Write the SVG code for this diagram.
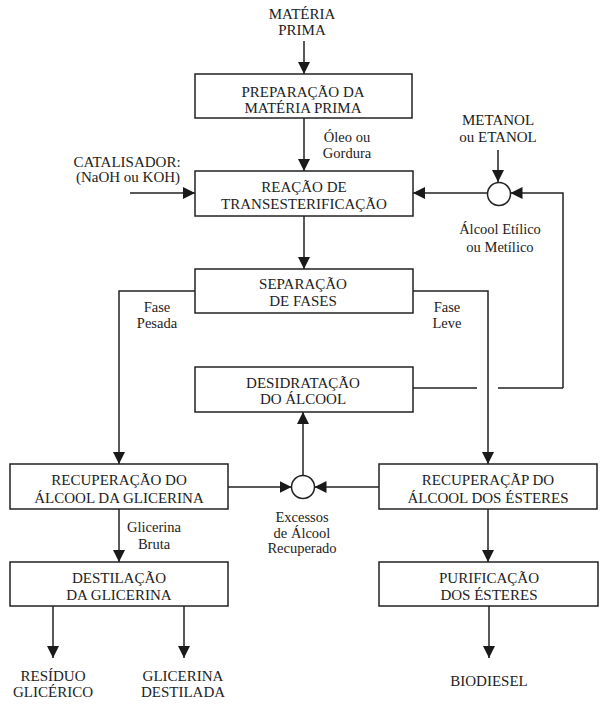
<svg xmlns="http://www.w3.org/2000/svg" width="600" height="705" viewBox="0 0 600 705">
<defs>
<marker id="ah" markerUnits="userSpaceOnUse" markerWidth="12" markerHeight="12" viewBox="0 0 12 12" refX="12" refY="6" orient="auto">
<path d="M0,0 L12,6 L0,12 z" fill="#1a1a1a"/>
</marker>
<style>
.box{fill:#fff;stroke:#222;stroke-width:1.5}
.t{font-family:"Liberation Serif","Times New Roman",serif;font-size:15px;fill:#222;text-anchor:middle}
.l{font-family:"Liberation Serif","Times New Roman",serif;font-size:14.5px;fill:#222;text-anchor:middle}
.c{fill:none;stroke:#222;stroke-width:1.5}
.a{fill:none;stroke:#222;stroke-width:1.5;marker-end:url(#ah)}
.circ{fill:#fff;stroke:#222;stroke-width:1.5}
</style>
</defs>
<rect width="600" height="705" fill="#fff"/>

<g id="connectors">
<path class="a" d="M304,41 V74"/>
<path class="a" d="M304,118 V171"/>
<path class="a" d="M130,193 H195"/>
<path class="a" d="M304,216 V269"/>
<path class="a" d="M498,150 V182"/>
<path class="a" d="M487,193 H413"/>
<path class="a" d="M563,388 V193 H510.5"/>
<path class="c" d="M413,388 H477"/>
<path class="c" d="M498,388 H563"/>
<path class="a" d="M195,291 H119 V464"/>
<path class="a" d="M413,291 H488 V464"/>
<path class="a" d="M303,475.5 V412"/>
<path class="a" d="M228,487 H291.5"/>
<path class="a" d="M379,487 H314.5"/>
<path class="a" d="M119,509 V562"/>
<path class="a" d="M488,509 V562"/>
<path class="a" d="M53,606 V658"/>
<path class="a" d="M184,606 V658"/>
<path class="a" d="M489,606 V658"/>
</g>

<g id="materia-prima">
<text class="t" x="302" y="19">MATÉRIA</text>
<text class="t" x="302" y="35">PRIMA</text>
</g>

<g id="preparacao">
<rect class="box" x="195" y="74" width="217" height="44"/>
<text class="t" x="303" y="97">PREPARAÇÃO DA</text>
<text class="t" x="303" y="113">MATÉRIA PRIMA</text>
</g>

<g id="label-oleo">
<text class="l" x="347" y="142">Óleo ou</text>
<text class="l" x="347" y="158">Gordura</text>
</g>

<g id="catalisador">
<text class="t" x="127" y="167">CATALISADOR:</text>
<text class="t" x="128" y="182">(NaOH ou KOH)</text>
</g>

<g id="reacao">
<rect class="box" x="195" y="171" width="218" height="45"/>
<text class="t" x="304" y="192">REAÇÃO DE</text>
<text class="t" x="304" y="209">TRANSESTERIFICAÇÃO</text>
</g>

<g id="metanol">
<text class="t" x="498" y="125">METANOL</text>
<text class="t" x="498" y="142">ou ETANOL</text>
</g>

<g id="mix-top">
<circle class="circ" cx="499" cy="194" r="11.5"/>
</g>

<g id="label-alcool">
<text class="l" x="500" y="234">Álcool Etílico</text>
<text class="l" x="500" y="252">ou Metílico</text>
</g>

<g id="separacao">
<rect class="box" x="195" y="269" width="218" height="44"/>
<text class="t" x="303" y="289">SEPARAÇÃO</text>
<text class="t" x="303" y="306">DE FASES</text>
</g>

<g id="label-pesada">
<text class="l" x="157" y="312">Fase</text>
<text class="l" x="157" y="328">Pesada</text>
</g>

<g id="label-leve">
<text class="l" x="447" y="312">Fase</text>
<text class="l" x="447" y="328">Leve</text>
</g>

<g id="desidratacao">
<rect class="box" x="195" y="367" width="218" height="45"/>
<text class="t" x="303" y="388">DESIDRATAÇÃO</text>
<text class="t" x="303" y="404">DO ÁLCOOL</text>
</g>

<g id="rec-glicerina">
<rect class="box" x="10" y="464" width="218" height="45"/>
<text class="t" x="119" y="485">RECUPERAÇÃO DO</text>
<text class="t" x="119" y="503">ÁLCOOL DA GLICERINA</text>
</g>

<g id="mix-bottom">
<circle class="circ" cx="303" cy="487" r="11.5"/>
</g>

<g id="rec-esteres">
<rect class="box" x="379" y="464" width="218" height="45"/>
<text class="t" x="488" y="485">RECUPERAÇÃP DO</text>
<text class="t" x="488" y="503">ÁLCOOL DOS ÉSTERES</text>
</g>

<g id="label-excessos">
<text class="l" x="302" y="522">Excessos</text>
<text class="l" x="302" y="538">de Álcool</text>
<text class="l" x="302" y="553">Recuperado</text>
</g>

<g id="label-bruta">
<text class="l" x="154" y="532">Glicerina</text>
<text class="l" x="154" y="549">Bruta</text>
</g>

<g id="destilacao">
<rect class="box" x="10" y="562" width="218" height="44"/>
<text class="t" x="119" y="583">DESTILAÇÃO</text>
<text class="t" x="119" y="600">DA GLICERINA</text>
</g>

<g id="purificacao">
<rect class="box" x="379" y="562" width="219" height="44"/>
<text class="t" x="489" y="583">PURIFICAÇÃO</text>
<text class="t" x="489" y="600">DOS ÉSTERES</text>
</g>

<g id="residuo">
<text class="t" x="53" y="681">RESÍDUO</text>
<text class="t" x="53" y="697">GLICÉRICO</text>
</g>

<g id="glicerina-destilada">
<text class="t" x="183" y="681">GLICERINA</text>
<text class="t" x="183" y="697">DESTILADA</text>
</g>

<g id="biodiesel">
<text class="t" x="489" y="686">BIODIESEL</text>
</g>
</svg>
